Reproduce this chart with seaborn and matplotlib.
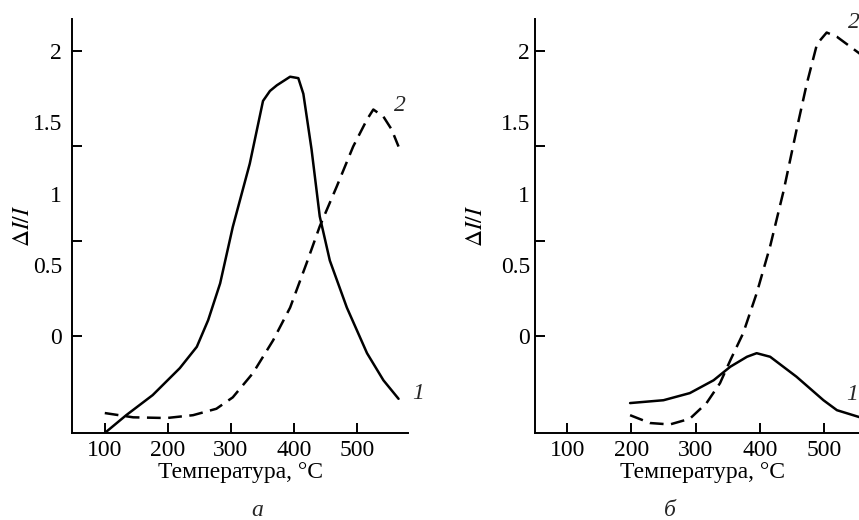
import numpy as np
import pandas as pd
import matplotlib
matplotlib.use('Agg')
import matplotlib.pyplot as plt
import seaborn as sns
from matplotlib.ticker import FixedLocator

# Panel a: curve 1 (solid) and curve 2 (dashed)
a_t1 = [100, 134, 176, 219, 246, 264, 283, 303, 330, 351, 362, 373, 394, 407, 415, 428, 441, 457, 484, 516, 542, 566]
a_y1 = [-0.68, -0.555, -0.414, -0.225, -0.075, 0.112, 0.37, 0.765, 1.21, 1.65, 1.72, 1.76, 1.82, 1.81, 1.70,
        1.31, 0.84, 0.53, 0.20, -0.12, -0.31, -0.44]
a_t2 = [100, 145, 198, 240, 277, 303, 335, 367, 394, 420, 441, 468, 494, 516, 526, 542, 555, 566]
a_y2 = [-0.54, -0.57, -0.575, -0.555, -0.51, -0.43, -0.26, -0.03, 0.20, 0.51, 0.77, 1.05, 1.33, 1.52,
        1.59, 1.54, 1.45, 1.33]

# Panel b
b_t1 = [198, 250, 291, 328, 354, 380, 395, 416, 457, 499, 520, 556, 575]
b_y1 = [-0.47, -0.45, -0.40, -0.31, -0.215, -0.145, -0.12, -0.145, -0.285, -0.45, -0.52, -0.57, -0.59]
b_t2 = [198, 229, 260, 291, 317, 338, 354, 374, 395, 416, 437, 457, 473, 489, 504, 520, 535, 556, 575]
b_y2 = [-0.555, -0.61, -0.62, -0.58, -0.47, -0.33, -0.17, 0.02, 0.30, 0.63, 1.02, 1.445, 1.77, 2.05,
        2.13, 2.10, 2.05, 1.98, 1.90]

x_ticks = [100, 200, 300, 400, 500]
y_labels = [0, 0.5, 1, 1.5, 2]
y_marks = [0, 2 / 3, 4 / 3, 2]

sns.set_theme(style='ticks')
plt.rcParams['font.family'] = ['Liberation Serif', 'DejaVu Serif']
plt.rcParams['mathtext.fontset'] = 'stix'

fs = 17
fig = plt.figure(figsize=(8.59, 5.2), dpi=100)
W, H = 859, 520
ax_a = fig.add_axes([72 / W, (H - 433) / H, 336 / W, 414 / H])
ax_b = fig.add_axes([535 / W, (H - 433) / H, 336 / W, 414 / H])


def make_df(t1, y1, t2, y2):
    return pd.concat([
        pd.DataFrame({'T': t1, 'v': y1, 'curve': '1'}),
        pd.DataFrame({'T': t2, 'v': y2, 'curve': '2'}),
    ], ignore_index=True)


panels = [
    (ax_a, make_df(a_t1, a_y1, a_t2, a_y2), (48, 581), 7.2, -1,
     [(587, -0.40, '1'), (559, 1.62, '2')], (257, 'а')),
    (ax_b, make_df(b_t1, b_y1, b_t2, b_y2), (50, 573), 3.6, 9.5,
     [(535, -0.41, '1'), (537, 2.20, '2')], (670, 'б')),
]

for ax, df, xlim, ypad, ylpad, marks, sub in panels:
    sns.lineplot(data=df, x='T', y='v', style='curve', color='black', linewidth=1.8,
                 dashes={'1': '', '2': (5.5, 3)}, sort=False, estimator=None,
                 legend=False, ax=ax)
    ax.set_xlim(*xlim)
    ax.set_ylim(-0.68, 2.225)
    for side in ['top', 'right']:
        ax.spines[side].set_visible(False)
    for side in ['left', 'bottom']:
        ax.spines[side].set_linewidth(1.4)
        ax.spines[side].set_color('black')
    ax.set_xticks(x_ticks)
    ax.set_xticklabels([str(v) for v in x_ticks])
    ax.tick_params(axis='x', direction='in', length=7.5, width=1.4, pad=5,
                   labelsize=fs, colors='black')
    ax.yaxis.set_major_locator(FixedLocator(y_labels))
    ax.set_yticklabels([f'{v:g}' for v in y_labels])
    ax.yaxis.set_minor_locator(FixedLocator(y_marks))
    ax.yaxis.remove_overlapping_locs = False
    ax.tick_params(axis='y', which='major', length=0, pad=ypad, labelsize=fs, colors='black')
    ax.tick_params(axis='y', which='minor', direction='in', length=7.5, width=1.4, color='black')
    ax.set_xlabel('Температура, °C', fontsize=fs, color='black', labelpad=1)
    ax.set_ylabel(r'$\Delta I/I$', fontsize=fs, color='black', labelpad=ylpad)
    ax.set_facecolor('white')
    for x, y, s in marks:
        ax.text(x, y, s, fontsize=fs, style='italic', ha='left', va='center', clip_on=False)
    fig.text(sub[0] / W, 1 - 510 / H, sub[1], fontsize=fs, style='italic',
             ha='center', va='center')

fig.savefig('out.png', dpi=100, facecolor='white')
